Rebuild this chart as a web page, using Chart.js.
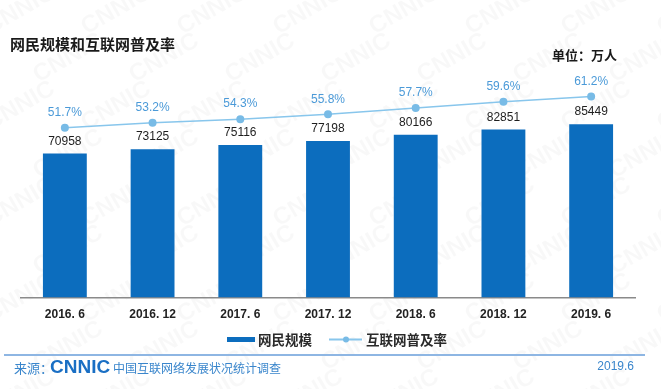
<!DOCTYPE html>
<html>
<head>
<meta charset="utf-8">
<script src="https://cdn.jsdelivr.net/npm/chart.js@4.4.1/dist/chart.umd.min.js"></script>
<style>
  html, body { margin: 0; padding: 0; background: #fff; }
  #wrap { width: 661px; height: 389px; position: relative; }
</style>
</head>
<body>
<div id="wrap"><canvas id="c" width="661" height="389"></canvas></div>
<script>
// --- données ---
const periods = ['2016. 6', '2016. 12', '2017. 6', '2017. 12', '2018. 6', '2018. 12', '2019. 6'];
const netizens = [70958, 73125, 75116, 77198, 80166, 82851, 85449]; // 万人
const penetration = [51.7, 53.2, 54.3, 55.8, 57.7, 59.6, 61.2];   // %

const BAR_BLUE = '#0c6dbe';
const LINE_BLUE = '#88c6ec';
const DOT_BLUE = '#78bbe6';
const LABEL_BLUE = '#4b9ad8';
const FOOT_BLUE = '#3a86cc';
const CJK = '"Noto Sans CJK SC", "Noto Sans", sans-serif';

// watermark + title + footer
const decoPlugin = {
  id: 'deco',
  beforeDraw(chart) {
    const c = chart.ctx;
    c.save();
    c.fillStyle = '#fff';
    c.fillRect(0, 0, chart.width, chart.height);
    // filigrane CNNIC
    c.fillStyle = 'rgba(0,0,0,0.028)';
    c.font = 'bold 24px "Liberation Sans", Arial, sans-serif';
    c.textAlign = 'center';
    c.textBaseline = 'middle';
    for (let row = 0; row < 9; row++) {
      for (let col = 0; col < 8; col++) {
        const x = col * 96 + (row % 2) * 48 + 20;
        const y = row * 48 + 10;
        c.save();
        c.translate(x, y);
        c.rotate(-Math.PI / 6);
        c.fillText('CNNIC', 0, 0);
        c.restore();
      }
    }
    c.restore();
  },
  afterDraw(chart) {
    const c = chart.ctx;
    c.save();
    // titre
    c.fillStyle = '#1a1a1a';
    c.font = 'bold 15px ' + CJK;
    c.textAlign = 'left';
    c.textBaseline = 'middle';
    c.fillText('网民规模和互联网普及率', 10, 44);
    // unité
    c.font = 'bold 13px ' + CJK;
    c.fillText('单位：万人', 552, 55);

    // légende
    const ly = 339.5;
    c.fillStyle = BAR_BLUE;
    c.fillRect(227, ly - 2.5, 28, 5);
    c.fillStyle = '#2a2a2a';
    c.font = 'bold 13.5px ' + CJK;
    c.fillText(chart.data.datasets[0].label, 258, ly);
    c.strokeStyle = LINE_BLUE;
    c.lineWidth = 2;
    c.beginPath();
    c.moveTo(329, ly);
    c.lineTo(362, ly);
    c.stroke();
    c.fillStyle = DOT_BLUE;
    c.beginPath();
    c.arc(346, ly, 3, 0, Math.PI * 2);
    c.fill();
    c.fillStyle = '#2a2a2a';
    c.fillText(chart.data.datasets[1].label, 366, ly);

    // pied de page
    c.strokeStyle = '#8eb6e3';
    c.lineWidth = 2;
    c.beginPath();
    c.moveTo(4, 355);
    c.lineTo(645, 355);
    c.stroke();
    c.fillStyle = FOOT_BLUE;
    c.font = '13px ' + CJK;
    c.fillText('来源：', 14, 368);
    c.font = 'bold 19px "Liberation Sans", Arial, sans-serif';
    c.fillStyle = '#1a6fc4';
    c.fillText('CNNIC', 50, 368);
    c.fillStyle = FOOT_BLUE;
    c.font = '12px ' + CJK;
    c.fillText('中国互联网络发展状况统计调查', 113, 368);
    c.textAlign = 'right';
    c.font = '12px "Liberation Sans", Arial, sans-serif';
    c.fillText('2019.6', 634, 367);
    c.restore();
  }
};

// étiquettes de valeurs
const labelPlugin = {
  id: 'valueLabels',
  afterDatasetsDraw(chart) {
    const c = chart.ctx;
    c.save();
    c.textAlign = 'center';
    c.textBaseline = 'middle';
    chart.getDatasetMeta(0).data.forEach((bar, i) => {
      c.fillStyle = '#1e1e1e';
      c.font = '12px "Liberation Sans", Arial, sans-serif';
      c.fillText(String(netizens[i]), bar.x, bar.y - 12);
    });
    chart.getDatasetMeta(1).data.forEach((pt, i) => {
      c.fillStyle = LABEL_BLUE;
      c.font = '12px "Liberation Sans", Arial, sans-serif';
      c.fillText(penetration[i].toFixed(1) + '%', pt.x, pt.y - 15);
    });
    c.restore();
  }
};

new Chart(document.getElementById('c'), {
  type: 'bar',
  data: {
    labels: periods,
    datasets: [
      {
        label: '网民规模',
        data: netizens,
        backgroundColor: BAR_BLUE,
        barPercentage: 0.5,
        categoryPercentage: 1,
        yAxisID: 'y',
        order: 2
      },
      {
        type: 'line',
        label: '互联网普及率',
        data: penetration,
        borderColor: LINE_BLUE,
        borderWidth: 1.5,
        pointRadius: 4,
        pointBackgroundColor: DOT_BLUE,
        pointBorderColor: DOT_BLUE,
        pointBorderWidth: 0,
        tension: 0,
        yAxisID: 'y1',
        order: 1
      }
    ]
  },
  options: {
    responsive: false,
    animation: false,
    devicePixelRatio: 1,
    layout: { padding: { left: 21, right: 26, top: 40, bottom: 57 } },
    plugins: {
      legend: { display: false },
      tooltip: { enabled: false }
    },
    scales: {
      x: {
        grid: { display: false, drawTicks: false },
        border: { display: true, color: '#8a8a8a', width: 1.5 },
        ticks: {
          padding: 10,
          color: '#222',
          font: { family: '"Liberation Sans", Arial, sans-serif', size: 12, weight: 'bold' }
        }
      },
      y: { display: false, min: 0, max: 126900 },
      y1: { display: false, min: 0, max: 78.4 }
    }
  },
  plugins: [decoPlugin, labelPlugin]
});
</script>
</body>
</html>
